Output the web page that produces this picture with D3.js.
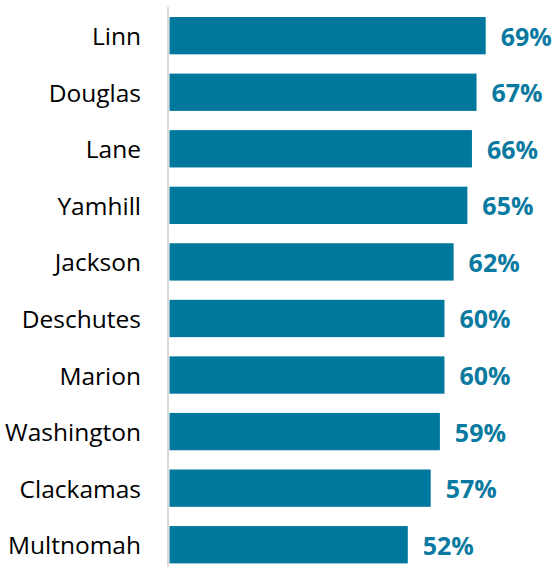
<!DOCTYPE html>
<html><head><meta charset="utf-8">
<script src="https://cdn.jsdelivr.net/npm/d3@7"></script>
<style>body{margin:0;background:#fff}svg{display:block}</style>
</head><body>
<script>
const counties = ["Linn","Douglas","Lane","Yamhill","Jackson","Deschutes","Marion","Washington","Clackamas","Multnomah"];
const values = [69,67,66,65,62,60,60,59,57,52];

const W = 555, H = 567;
const svg = d3.select("body").append("svg").attr("width", W).attr("height", H);

const x0 = 169.5;
const x = d3.scaleLinear().domain([0, 69]).range([x0, 485.7]);
const y = d3.scaleBand().domain(counties).range([7.4, 573]).paddingInner(0.34).paddingOuter(0.17);

svg.append("line").attr("x1", 168).attr("x2", 168).attr("y1", 7).attr("y2", H)
  .attr("stroke", "#d9d9d9").attr("stroke-width", 2);

const data = counties.map((c, i) => ({c, v: values[i]}));

svg.selectAll("rect.bar").data(data).join("rect").attr("class","bar")
  .attr("x", x(0)).attr("y", d => y(d.c))
  .attr("width", d => x(d.v) - x(0)).attr("height", y.bandwidth())
  .attr("fill", "#00789e");

svg.selectAll("text.cat").data(data).join("text").attr("class","cat")
  .attr("x", 141).attr("y", d => y(d.c) + y.bandwidth()/2)
  .attr("text-anchor","end").attr("dominant-baseline","central")
  .attr("font-family","'Open Sans', sans-serif").attr("font-size", 24.5)
  .attr("fill","#000").text(d => d.c);

svg.selectAll("text.val").data(data).join("text").attr("class","val")
  .attr("x", d => x(d.v) + 15).attr("y", d => y(d.c) + y.bandwidth()/2)
  .attr("dominant-baseline","central")
  .attr("font-family","'Open Sans', sans-serif").attr("font-weight","bold").attr("font-size", 25)
  .attr("fill","#0a7aa0").text(d => d.v + "%");
</script>
</body></html>
